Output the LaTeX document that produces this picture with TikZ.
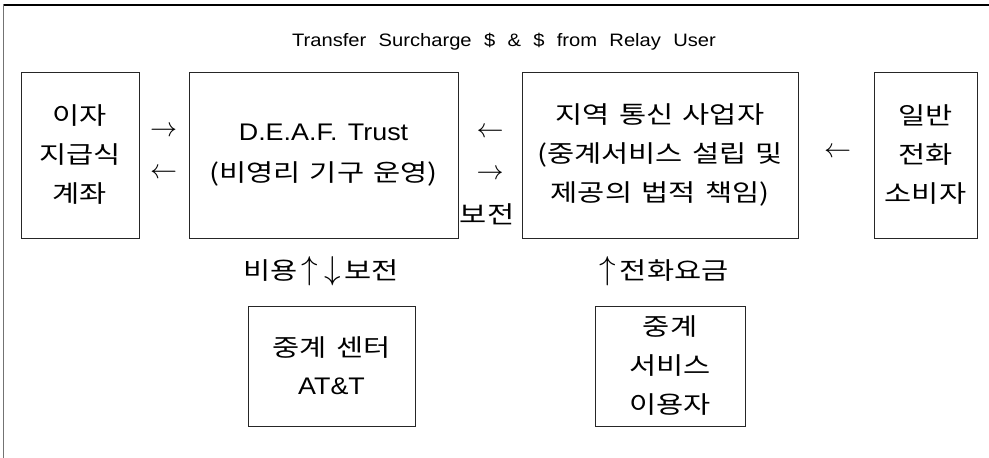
\documentclass[tikz,border=0pt]{standalone}
\usepackage{fontspec}
\setmainfont{Liberation Sans}[FakeStretch=1.12]
\newfontfamily\titlefont{Liberation Sans}[FakeStretch=1.12, WordSpace=2.2]
\newfontfamily\kr{Noto Sans CJK KR}[FakeStretch=1.23, WordSpace=1.4]
\newcommand{\harr}[1]{\resizebox{27pt}{!}{$#1$}}
\newcommand{\varr}[1]{\resizebox{!}{23pt}{$#1$}}
\begin{document}
\begin{tikzpicture}[x=1pt,y=-1pt,
  box/.style={draw=black!85, line width=0.8pt, inner sep=0pt, align=center},
  lbl/.style={inner sep=0pt, align=center},
  kfont/.style={font=\kr\fontsize{24}{#1}\selectfont},
  arr/.style={inner sep=0pt}]
\useasboundingbox (0,0) rectangle (989,458);
\draw[line width=2pt] (3,4.5) -- (989,4.5);
\draw[black!55, line width=1.2pt] (3.6,4) -- (3.6,458);

\node[lbl, font=\titlefont\fontsize{18}{20}\selectfont] (title) at (504,42) {Transfer Surcharge \$ \& \$ from Relay User};

\node[box, minimum width=118pt, minimum height=166pt, kfont=39] (acct) at (80,155) {이자\\지급식\\계좌};
\node[box, minimum width=269pt, minimum height=166pt, font=\fontsize{24}{41}\selectfont] (trust) at (323.5,155) {D.E.A.F.\hspace{3pt} Trust\\{\kr (비영리 기구 운영)}};
\node[box, minimum width=276pt, minimum height=166pt, kfont=39] (carrier) at (660,155) {지역 통신 사업자\\(중계서비스 설립 및\\제공의 법적 책임)};
\node[box, minimum width=103pt, minimum height=166pt, kfont=39] (consumer) at (925.5,155) {일반\\전화\\소비자};

\node[box, minimum width=167pt, minimum height=120pt, kfont=38] (center) at (331.5,366) {중계 센터\\{\rmfamily AT\&T}};
\node[box, minimum width=150pt, minimum height=120pt, kfont=39] (user) at (670,366) {중계\\서비스\\이용자};

\node[arr] (a1) at (163.5,132) {\harr{\rightarrow}};
\node[arr] (a2) at (163.5,174) {\harr{\leftarrow}};
\node[arr] (a3) at (490,133) {\harr{\leftarrow}};
\node[arr] (a4) at (490,175) {\harr{\rightarrow}};
\node[arr] (a5) at (837.5,153) {\harr{\leftarrow}};
\node[lbl, kfont=26] (bojeon) at (487,214) {보전};

\node[lbl, kfont=26] (cost) at (321,271) {비용\,\varr{\uparrow}\hspace{6pt}\varr{\downarrow}\,보전};
\node[lbl, kfont=26] (fee) at (664,271) {\varr{\uparrow}\,전화요금};
\end{tikzpicture}
\end{document}
